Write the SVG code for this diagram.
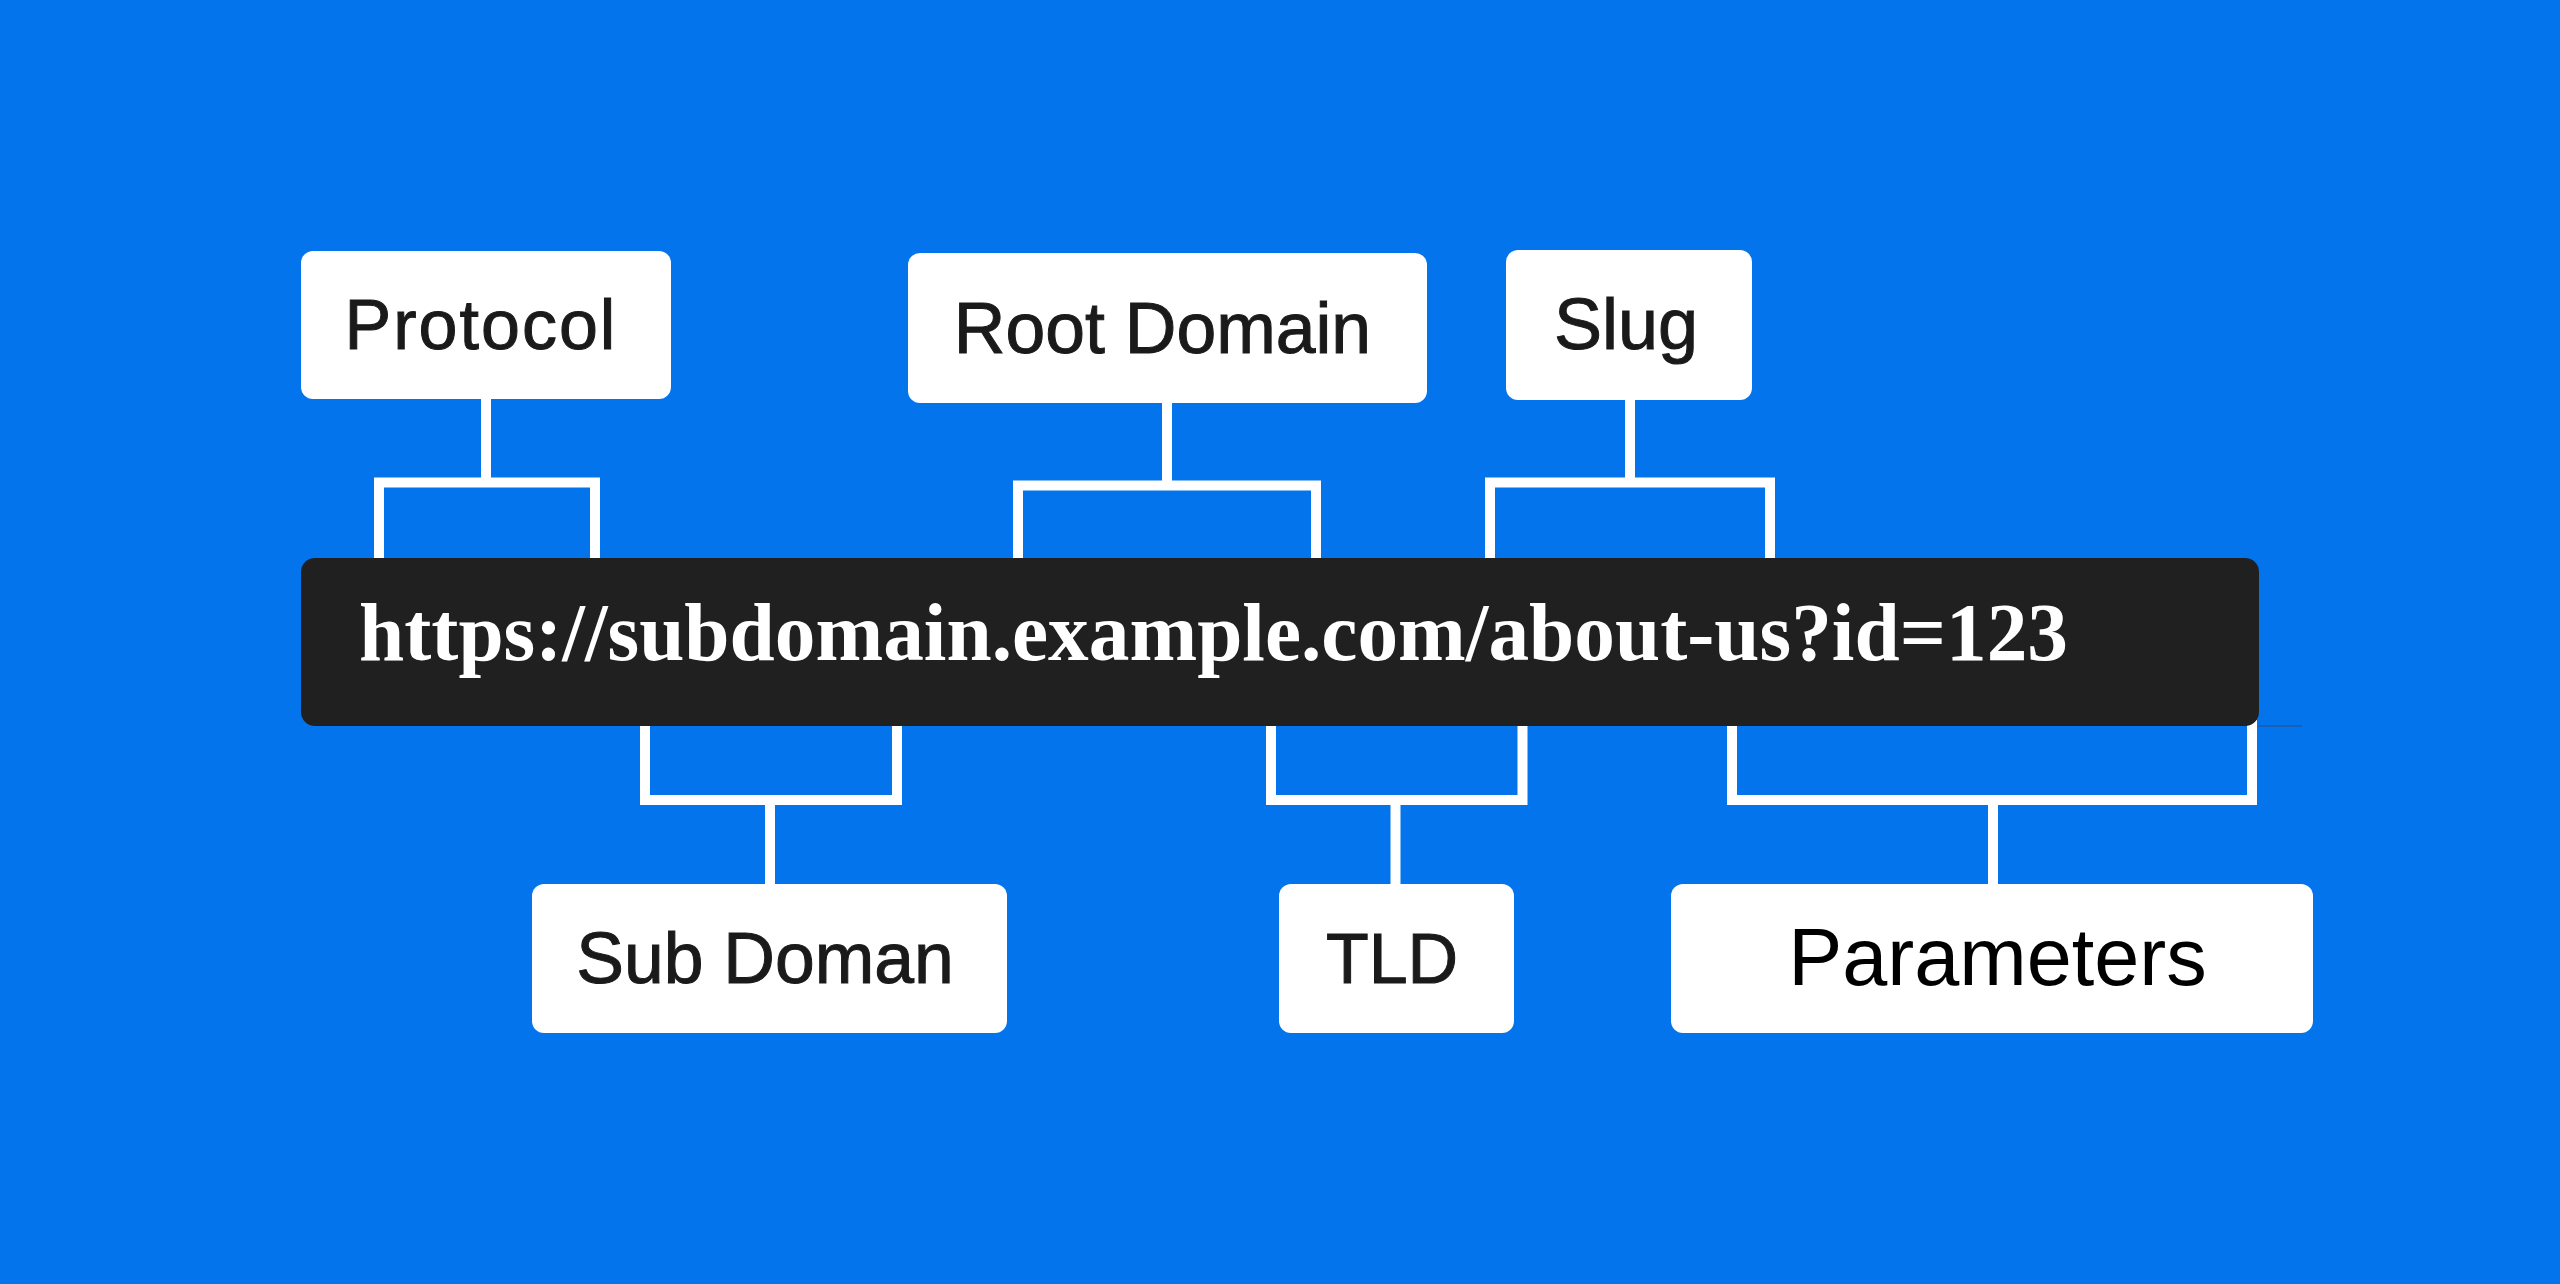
<svg xmlns="http://www.w3.org/2000/svg" width="2560" height="1284" viewBox="0 0 2560 1284">
  <style>
    .box { fill: #ffffff; }
    .lbl { font-family: "Liberation Sans", Arial, sans-serif; fill: #1a1a1a; stroke: #1a1a1a; stroke-width: 1; text-anchor: middle; }
    .conn { fill: none; stroke: #ffffff; stroke-width: 10; stroke-linejoin: miter; stroke-linecap: butt; }
    .url { font-family: "Liberation Serif", "Times New Roman", serif; font-weight: bold; fill: #ffffff; }
  </style>
  <rect x="0" y="0" width="2560" height="1284" fill="#0474ec"/>

  <g id="connectors">
    <!-- Protocol -->
    <path class="conn" d="M486,399 V483"/>
    <path class="conn" d="M379,565 V482.5 H595 V565"/>
    <!-- Root Domain -->
    <path class="conn" d="M1167,402 V486"/>
    <path class="conn" d="M1018,565 V485.5 H1316 V565"/>
    <!-- Slug -->
    <path class="conn" d="M1630,399 V483"/>
    <path class="conn" d="M1490,565 V482.5 H1770 V565"/>
    <!-- Sub Doman -->
    <path class="conn" d="M645,720 V800 H897 V720"/>
    <path class="conn" d="M770,800 V885"/>
    <!-- TLD -->
    <path class="conn" d="M1271,720 V800 H1522.5 V720"/>
    <path class="conn" d="M1395.5,800 V885"/>
    <!-- Parameters -->
    <path class="conn" d="M1732,720 V800 H2252 V720"/>
    <path class="conn" d="M1993,800 V885"/>
  </g>

  <g id="url">
    <rect x="301" y="558" width="1958" height="168" rx="14" ry="14" fill="#202020"/>
    <line x1="2258" y1="726" x2="2302" y2="726" stroke="#2b4f80" stroke-width="1"/>
    <text class="url" x="359" y="660" font-size="82" textLength="1709" lengthAdjust="spacingAndGlyphs">https://subdomain.example.com/about-us?id=123</text>
  </g>

  <g id="protocol">
    <rect class="box" x="301" y="251" width="370" height="148" rx="12" ry="12"/>
    <text class="lbl" x="481" y="349" font-size="70" letter-spacing="2">Protocol</text>
  </g>

  <g id="root-domain">
    <rect class="box" x="908" y="253" width="519" height="150" rx="12" ry="12"/>
    <text class="lbl" x="1162.5" y="352.7" font-size="71.5">Root Domain</text>
  </g>

  <g id="slug">
    <rect class="box" x="1506" y="250" width="246" height="150" rx="12" ry="12"/>
    <text class="lbl" x="1626" y="349.3" font-size="72">Slug</text>
  </g>

  <g id="sub-doman">
    <rect class="box" x="532" y="884" width="475" height="149" rx="12" ry="12"/>
    <text class="lbl" x="765" y="982.7" font-size="71.5">Sub Doman</text>
  </g>

  <g id="tld">
    <rect class="box" x="1279" y="884" width="235" height="149" rx="12" ry="12"/>
    <text class="lbl" x="1392" y="983" font-size="70">TLD</text>
  </g>

  <g id="parameters">
    <rect class="box" x="1671" y="884" width="642" height="149" rx="12" ry="12"/>
    <text class="lbl" x="1997.5" y="985" font-size="81" style="fill:#000000;stroke:none">Parameters</text>
  </g>
</svg>
